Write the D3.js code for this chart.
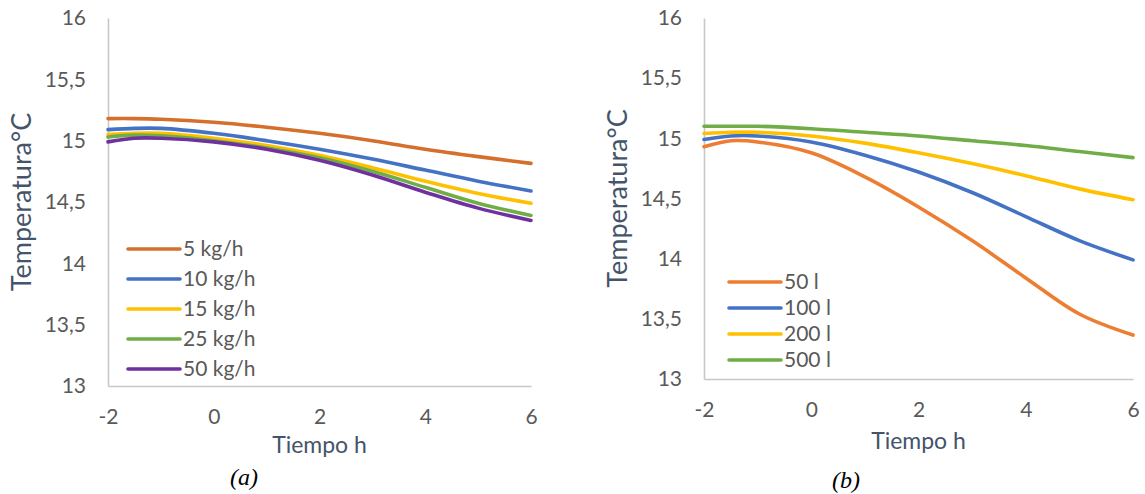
<!DOCTYPE html>
<html><head><meta charset="utf-8">
<script src="https://cdn.jsdelivr.net/npm/d3@7"></script>
<style>
html,body{margin:0;padding:0;background:#fff;}
svg{display:block;}
</style></head>
<body>
<svg id="chart" width="1145" height="494"></svg>
<script>
// ---------- DATA ----------
const timeH = [-2, -1.5, -1, 0, 1, 2, 3, 4, 5, 6];
const xTicks = [-2, 0, 2, 4, 6];
const yTicks = [13, 13.5, 14, 14.5, 15, 15.5, 16];
const yTickLabels = ["13", "13,5", "14", "14,5", "15", "15,5", "16"];

// Panel (a): flow rate
const seriesANames = ["5 kg/h", "10 kg/h", "15 kg/h", "25 kg/h", "50 kg/h"];
const a5   = [15.18, 15.18, 15.175, 15.15, 15.11, 15.06, 15.0, 14.93, 14.87, 14.815];
const a10  = [15.09, 15.10, 15.10, 15.06, 15.0, 14.93, 14.85, 14.76, 14.67, 14.59];
const a15  = [15.05, 15.06, 15.06, 15.02, 14.96, 14.88, 14.78, 14.67, 14.57, 14.49];
const a25  = [15.03, 15.045, 15.04, 15.0, 14.94, 14.86, 14.75, 14.62, 14.49, 14.39];
const a50  = [14.99, 15.02, 15.02, 14.99, 14.93, 14.84, 14.72, 14.58, 14.45, 14.35];
const seriesAColors = ["#D5702C", "#4472C4", "#FFC000", "#70AD47", "#7030A0"];

// Panel (b): volume
const seriesBNames = ["50 l", "100 l", "200 l", "500 l"];
const b50  = [14.93, 14.98, 14.97, 14.88, 14.68, 14.43, 14.15, 13.84, 13.54, 13.365];
const b100 = [14.99, 15.02, 15.02, 14.97, 14.86, 14.72, 14.55, 14.35, 14.15, 13.99];
const b200 = [15.04, 15.05, 15.05, 15.02, 14.96, 14.88, 14.79, 14.69, 14.58, 14.49];
const b500 = [15.10, 15.10, 15.10, 15.08, 15.05, 15.02, 14.98, 14.94, 14.89, 14.84];
const seriesBColors = ["#ED7D31", "#4472C4", "#FFC000", "#70AD47"];

const xLabel = "Tiempo h";
const yLabel = "Temperatura°C";

// ---------- DRAW ----------
const svg = d3.select("#chart");
const tickColor = "#595959";
const titleColor = "#44546A";
const axisColor = "#C8C8C8";
const FONT = "Lato, 'Open Sans', sans-serif";

function panel(cfg) {
  const g = svg.append("g");
  const x = d3.scaleLinear().domain([-2, 6]).range([cfg.x0, cfg.x1]);
  const y = d3.scaleLinear().domain([13, 16]).range([cfg.y0, cfg.y1]);

  const yAxis = d3.axisLeft(y).tickValues(yTicks).tickSize(0).tickPadding(22)
    .tickFormat((d, i) => yTickLabels[i]);
  const yg = g.append("g").attr("transform", `translate(${cfg.x0},0)`).call(yAxis);
  yg.select(".domain").attr("stroke", axisColor).attr("stroke-width", 1.6);
  yg.selectAll("text").attr("fill", tickColor).attr("font-size", 21).attr("font-family", FONT);

  const xAxis = d3.axisBottom(x).tickValues(xTicks).tickSize(0).tickPadding(23)
    .tickFormat(d => String(d));
  const xg = g.append("g").attr("transform", `translate(0,${cfg.y0})`).call(xAxis);
  xg.select(".domain").attr("stroke", axisColor).attr("stroke-width", 1.6);
  xg.selectAll("text").attr("fill", tickColor).attr("font-size", 21).attr("font-family", FONT);

  g.append("text")
    .attr("x", (cfg.x0 + cfg.x1) / 2).attr("y", cfg.xTitleY)
    .attr("text-anchor", "middle").attr("fill", titleColor)
    .attr("font-size", 23).attr("font-family", FONT)
    .text(xLabel);
  g.append("text")
    .attr("transform", `translate(${cfg.yTitleX},${(cfg.y0 + cfg.y1) / 2}) rotate(-90)`)
    .attr("text-anchor", "middle").attr("dy", "0.35em").attr("fill", titleColor)
    .attr("font-size", 27).attr("font-family", FONT)
    .text(yLabel);

  const line = d3.line().x((d, i) => x(timeH[i])).y(d => y(d))
    .curve(d3.curveCatmullRom.alpha(0.5));
  cfg.series.forEach((s, k) => {
    g.append("path").datum(s).attr("d", line)
      .attr("fill", "none").attr("stroke", cfg.colors[k])
      .attr("stroke-width", 3.6).attr("stroke-linecap", "round");
  });

  cfg.names.forEach((n, k) => {
    const ly = cfg.legY + k * cfg.legStep;
    g.append("line").attr("x1", cfg.legX).attr("x2", cfg.legX + 52)
      .attr("y1", ly).attr("y2", ly)
      .attr("stroke", cfg.colors[k]).attr("stroke-width", 3.6).attr("stroke-linecap", "round");
    g.append("text").attr("x", cfg.legX + 55).attr("y", ly).attr("dy", "0.35em")
      .attr("fill", tickColor).attr("font-size", 21).attr("font-family", FONT).text(n);
  });

  g.append("text").attr("x", cfg.capX).attr("y", cfg.capY).attr("dy", "0.35em")
    .attr("text-anchor", "middle").attr("font-style", "italic")
    .attr("font-family", "'Liberation Serif', 'Times New Roman', serif")
    .attr("font-size", 24).attr("fill", "#000").text(cfg.caption);
}

panel({
  x0: 108, x1: 531, y0: 386, y1: 18,
  xTitleY: 453, yTitleX: 22,
  series: [a5, a10, a15, a25, a50], colors: seriesAColors, names: seriesANames,
  legX: 128, legY: 249, legStep: 30,
  capX: 244, capY: 477, caption: "(a)"
});

panel({
  x0: 704, x1: 1133, y0: 379, y1: 18,
  xTitleY: 449, yTitleX: 618,
  series: [b50, b100, b200, b500], colors: seriesBColors, names: seriesBNames,
  legX: 729, legY: 282, legStep: 26,
  capX: 846, capY: 480, caption: "(b)"
});
</script>
</body></html>
